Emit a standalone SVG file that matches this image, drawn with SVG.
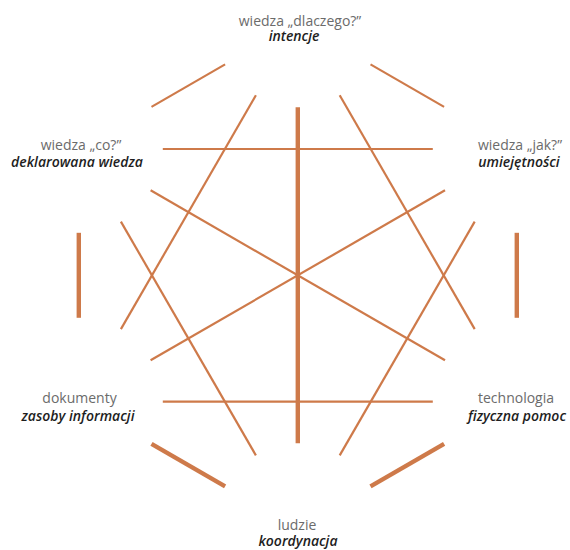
<svg xmlns="http://www.w3.org/2000/svg" width="570" height="550" viewBox="0 0 570 550">
  <style>
    .ln { stroke: #CE7A4A; stroke-linecap: butt; fill: none; }
    .thin { stroke-width: 2.2; }
    .thick { stroke-width: 4.4; }
    text { font-family: "Open Sans", "Noto Sans", "DejaVu Sans", sans-serif; font-size: 14px; text-anchor: middle; }
    .t1 { fill: #6b6b6b; font-weight: 400; }
    .t2 { fill: #1e1e1e; font-weight: 600; font-style: italic; }
  </style>
  <rect width="570" height="550" fill="#ffffff"/>
  <g id="frame">
    <line class="ln thin" x1="151.5" y1="106.9" x2="225.1" y2="64.4"/>
    <line class="ln thin" x1="370.5" y1="64.4" x2="444.1" y2="106.9"/>
    <line class="ln thick" x1="78.8" y1="232.8" x2="78.8" y2="317.8"/>
    <line class="ln thick" x1="516.8" y1="232.8" x2="516.8" y2="317.8"/>
    <line class="ln thick" x1="151.5" y1="443.8" x2="225.1" y2="486.3"/>
    <line class="ln thick" x1="370.5" y1="486.3" x2="444.1" y2="443.8"/>
  </g>
  <g id="connectors">
    <line class="ln thin" x1="162.8" y1="149" x2="432.8" y2="149"/>
    <line class="ln thin" x1="162.8" y1="401.6" x2="432.8" y2="401.6"/>
    <line class="ln thin" x1="255.9" y1="95.3" x2="120.9" y2="329.1"/>
    <line class="ln thin" x1="339.7" y1="95.3" x2="474.7" y2="329.1"/>
    <line class="ln thin" x1="120.9" y1="221.6" x2="255.9" y2="455.4"/>
    <line class="ln thin" x1="474.7" y1="221.6" x2="339.7" y2="455.4"/>
    <line class="ln thin" x1="150.6" y1="190.3" x2="445" y2="360.3"/>
    <line class="ln thin" x1="150.6" y1="360.3" x2="445" y2="190.3"/>
    <line class="ln thick" x1="297.8" y1="107.3" x2="297.8" y2="443.3"/>
  </g>
  <g id="node-dlaczego">
    <text class="t1" x="300" y="25.5">wiedza „dlaczego?”</text>
    <text class="t2" x="294" y="40.5">intencje</text>
  </g>
  <g id="node-co">
    <text class="t1" x="81" y="150">wiedza „co?”</text>
    <text class="t2" x="77" y="166.5">deklarowana wiedza</text>
  </g>
  <g id="node-jak">
    <text class="t1" x="520" y="150">wiedza „jak?”</text>
    <text class="t2" x="519" y="166.5">umiejętności</text>
  </g>
  <g id="node-dokumenty">
    <text class="t1" x="79.5" y="403">dokumenty</text>
    <text class="t2" x="78" y="420.5">zasoby informacji</text>
  </g>
  <g id="node-technologia">
    <text class="t1" x="516" y="403">technologia</text>
    <text class="t2" x="517" y="420.5">fizyczna pomoc</text>
  </g>
  <g id="node-ludzie">
    <text class="t1" x="297" y="530">ludzie</text>
    <text class="t2" x="298" y="545.5">koordynacja</text>
  </g>
</svg>
